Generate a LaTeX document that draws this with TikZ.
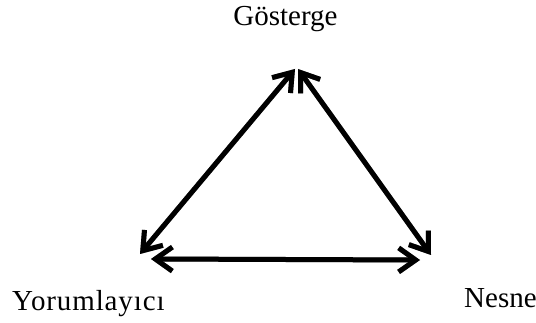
\documentclass[tikz,border=0pt]{standalone}
\usepackage{fontspec}
\setmainfont{Liberation Serif}
\usetikzlibrary{arrows.meta}
\tikzset{
  lbl/.style={inner sep=0pt, font=\fontsize{29}{34}\selectfont},
  link/.style={line width=5pt, {Straight Barb[length=17pt,width=24pt,line width=5pt]}-{Straight Barb[length=17pt,width=24pt,line width=5pt]}, line cap=round, line join=round},
  linkshadow/.style={link, draw=black!45},
  linkmain/.style={link, draw=black}
}
\begin{document}
\begin{tikzpicture}[x=1pt,y=-1pt]
\useasboundingbox (0,0) rectangle (536,323);
\node[lbl, anchor=base] (gos) at (285.5,26) {Gösterge};
\node[lbl, anchor=base west] (yor) at (12,311) {\addfontfeature{LetterSpace=3}Yorumlayıcı};
\node[lbl, anchor=base west] (nes) at (464,308) {Nesne};
\coordinate (tA) at (295,69);
\coordinate (tB) at (298,69);
\coordinate (lA) at (140,254);
\coordinate (lC) at (151,259);
\coordinate (rB) at (431,255);
\coordinate (rC) at (420,260);
\begin{scope}[shift={(2.4,2.4)}]
\draw[linkshadow] (lA) -- (tA);
\draw[linkshadow] (tB) -- (rB);
\draw[linkshadow] (lC) -- (rC);
\end{scope}
\draw[linkmain] (lA) -- (tA);
\draw[linkmain] (tB) -- (rB);
\draw[linkmain] (lC) -- (rC);
\end{tikzpicture}
\end{document}
